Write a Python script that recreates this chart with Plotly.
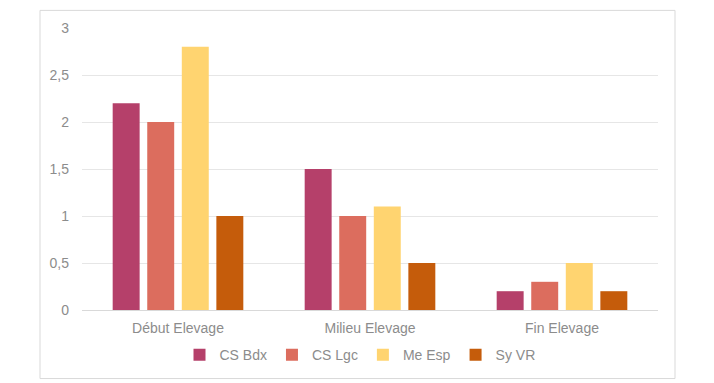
import plotly.graph_objects as go

categories = ["Début Elevage", "Milieu Elevage", "Fin Elevage"]
series_names = ["CS Bdx", "CS Lgc", "Me Esp", "Sy VR"]
cs_bdx = [2.2, 1.5, 0.2]
cs_lgc = [2.0, 1.0, 0.3]
me_esp = [2.8, 1.1, 0.5]
sy_vr = [1.0, 0.5, 0.2]
colors = ["#B5406A", "#DC6D5E", "#FFD470", "#C55C0B"]

fig = go.Figure()
for name, vals, col in zip(series_names, [cs_bdx, cs_lgc, me_esp, sy_vr], colors):
    fig.add_trace(go.Bar(x=categories, y=vals, name=name, marker_color=col,
                         marker_line_width=0))

font = dict(family="Liberation Sans, Arial, sans-serif", size=14, color="#8C8C8C")
fig.update_layout(
    width=706, height=375,
    margin=dict(l=74, r=56, t=14, b=73),
    paper_bgcolor="white", plot_bgcolor="white",
    barmode="group", bargap=0.28, bargroupgap=0.22,
    separators=", ",
    font=font,
    showlegend=True,
    legend=dict(orientation="h", x=(360 - 82) / 576, xanchor="center", y=-0.16, yanchor="middle",
                font=font, traceorder="normal"),
    xaxis=dict(showgrid=False, showline=True, linecolor="#D9D9D9", linewidth=1,
               ticks="", ticklabelstandoff=5, tickfont=font),
    yaxis=dict(range=[0, 3], dtick=0.5, showgrid=True, gridcolor="#E6E6E6", gridwidth=1,
               zeroline=False, showline=False, ticks="", ticklabelstandoff=12, tickfont=font),
    shapes=[dict(type="rect", xref="paper", yref="paper",
                 x0=(40 - 82) / 576, x1=(675 - 82) / 576,
                 y0=(310 - 380) / 288, y1=(310 - 4) / 288,
                 line=dict(color="#D9D9D9", width=1), fillcolor="rgba(0,0,0,0)", layer="below")],
)
fig.write_html("out.html")
